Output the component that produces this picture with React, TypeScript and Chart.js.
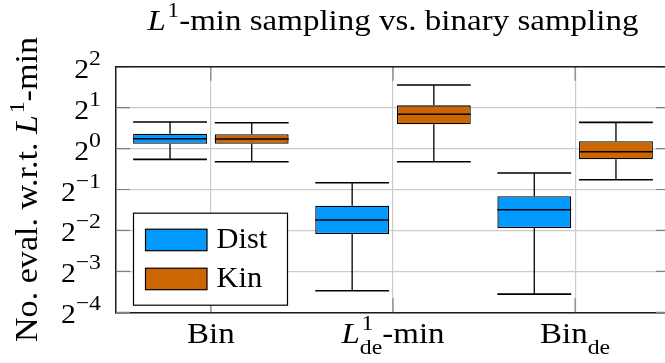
import React, { useEffect, useRef } from "react";
import { Chart, registerables } from "chart.js";
Chart.register(...registerables);

// ---------- data ----------
const categories = ["Bin", "L1de-min", "Binde"];
const seriesNames = ["Dist", "Kin"];
const seriesColors = ["#0099ff", "#cc6600"];

const distMin = [0.833, 0.090, 0.085];
const distQ1 = [1.086, 0.235, 0.260];
const distMedian = [1.182, 0.298, 0.355];
const distQ3 = [1.286, 0.380, 0.446];
const distMax = [1.568, 0.561, 0.661];

const kinMin = [0.800, 0.800, 0.590];
const kinQ1 = [1.086, 1.508, 0.833];
const kinMedian = [1.176, 1.786, 0.948];
const kinQ3 = [1.273, 2.079, 1.131];
const kinMax = [1.550, 2.934, 1.559];

const yTickExponents = [-4, -3, -2, -1, 0, 1, 2];

type Seg = { t: string; it?: boolean; sup?: boolean; sub?: boolean; stack?: boolean };

const categoryLabels: Seg[][] = [
  [{ t: "Bin" }],
  [{ t: "L", it: true }, { t: "1", sup: true, stack: true }, { t: "de", sub: true }, { t: "-min" }],
  [{ t: "Bin" }, { t: "de", sub: true }],
];
const titleSegs: Seg[] = [{ t: "L", it: true }, { t: "1", sup: true }, { t: "-min sampling vs. binary sampling" }];
const yTitleSegs: Seg[] = [{ t: "No. eval. w.r.t. " }, { t: "L", it: true }, { t: "1", sup: true }, { t: "-min" }];

const FONT = '"Liberation Serif", "Times New Roman", serif';

type RichOpts = { scale: number; supShift: number; subShift: number; stretch: number };
const defaultRich: RichOpts = { scale: 0.7, supShift: 0.42, subShift: 0.32, stretch: 1.1 };

function segFont(s: Seg, size: number, o: RichOpts) {
  const fs = s.sup || s.sub ? size * o.scale : size;
  return `${s.it ? "italic " : ""}${fs}px ${FONT}`;
}

function drawRich(
  ctx: CanvasRenderingContext2D,
  segs: Seg[],
  x: number,
  y: number,
  align: "left" | "center" | "right",
  size: number,
  o: RichOpts = defaultRich
) {
  const items: { s: Seg; x: number }[] = [];
  let cx = 0;
  let stackW = 0;
  for (const s of segs) {
    ctx.font = segFont(s, size, o);
    const w = ctx.measureText(s.t).width;
    let ox = cx;
    if (s.sup && items.length && items[items.length - 1].s.it) ox += size * 0.05;
    items.push({ s, x: ox });
    if (s.stack) {
      stackW = w + (ox - cx);
    } else {
      cx += Math.max(w + (ox - cx), stackW);
      stackW = 0;
    }
  }
  const total = cx * o.stretch;
  const x0 = align === "left" ? x : align === "center" ? x - total / 2 : x - total;
  ctx.save();
  ctx.translate(x0, y);
  ctx.scale(o.stretch, 1);
  ctx.textAlign = "left";
  ctx.textBaseline = "alphabetic";
  for (const it of items) {
    ctx.font = segFont(it.s, size, o);
    const dy = it.s.sup ? -o.supShift * size : it.s.sub ? o.subShift * size : 0;
    ctx.fillText(it.s.t, it.x, dy);
  }
  ctx.restore();
}

const boxStats = [
  { min: distMin, q1: distQ1, med: distMedian, q3: distQ3, max: distMax },
  { min: kinMin, q1: kinQ1, med: kinMedian, q3: kinQ3, max: kinMax },
];

const boxPlugin = {
  id: "boxDecor",
  beforeDatasetsDraw(chart: any) {
    const ctx = chart.ctx as CanvasRenderingContext2D;
    const ca = chart.chartArea;
    const xs = chart.scales.x;
    const ys = chart.scales.y;
    ctx.save();
    // inner tick marks
    ctx.strokeStyle = "#808080";
    ctx.lineWidth = 1.2;
    const tl = 14;
    const rightAxis = xs.getPixelForValue(xs.max);
    for (const k of yTickExponents) {
      const py = ys.getPixelForValue(Math.pow(2, k));
      ctx.beginPath();
      ctx.moveTo(ca.left, py);
      ctx.lineTo(ca.left + tl, py);
      ctx.moveTo(rightAxis - tl, py);
      ctx.lineTo(rightAxis, py);
      ctx.stroke();
    }
    categories.forEach((_, i) => {
      const px = xs.getPixelForValue(i + 1);
      ctx.beginPath();
      ctx.moveTo(px, ca.top);
      ctx.lineTo(px, ca.top + tl);
      ctx.moveTo(px, ca.bottom);
      ctx.lineTo(px, ca.bottom - tl);
      ctx.stroke();
    });
    // whiskers
    ctx.strokeStyle = "#000";
    boxStats.forEach((st, di) => {
      const meta = chart.getDatasetMeta(di);
      meta.data.forEach((el: any, i: number) => {
        const cx = el.x;
        const w = el.width;
        const yMin = ys.getPixelForValue(st.min[i]);
        const yMax = ys.getPixelForValue(st.max[i]);
        const yQ1 = ys.getPixelForValue(st.q1[i]);
        const yQ3 = ys.getPixelForValue(st.q3[i]);
        ctx.lineWidth = 1.3;
        ctx.beginPath();
        ctx.moveTo(cx, yQ3);
        ctx.lineTo(cx, yMax);
        ctx.moveTo(cx, yQ1);
        ctx.lineTo(cx, yMin);
        ctx.stroke();
        ctx.lineWidth = 1.6;
        ctx.beginPath();
        ctx.moveTo(cx - w / 2, yMax);
        ctx.lineTo(cx + w / 2, yMax);
        ctx.moveTo(cx - w / 2, yMin);
        ctx.lineTo(cx + w / 2, yMin);
        ctx.stroke();
      });
    });
    ctx.restore();
  },
  afterDatasetsDraw(chart: any) {
    const ctx = chart.ctx as CanvasRenderingContext2D;
    const ca = chart.chartArea;
    const xs = chart.scales.x;
    const ys = chart.scales.y;
    ctx.save();
    // medians
    ctx.strokeStyle = "#000";
    ctx.lineWidth = 1.5;
    boxStats.forEach((st, di) => {
      const meta = chart.getDatasetMeta(di);
      meta.data.forEach((el: any, i: number) => {
        const y = ys.getPixelForValue(st.med[i]);
        ctx.beginPath();
        ctx.moveTo(el.x - el.width / 2, y);
        ctx.lineTo(el.x + el.width / 2, y);
        ctx.stroke();
      });
    });
    // top frame
    ctx.strokeStyle = "#1a1a1a";
    ctx.lineWidth = 1.5;
    ctx.beginPath();
    ctx.moveTo(ca.left, ca.top);
    ctx.lineTo(ca.right, ca.top);
    ctx.stroke();

    // legend
    const lx = ca.left + 17.5;
    const lyTop = ca.top + 146.5;
    const lw = 154;
    const lh = 92;
    ctx.fillStyle = "#fff";
    ctx.fillRect(lx, lyTop, lw, lh);
    ctx.strokeStyle = "#000";
    ctx.lineWidth = 1.2;
    ctx.strokeRect(lx, lyTop, lw, lh);
    seriesNames.forEach((name, i) => {
      const sy = lyTop + 16 + i * 39;
      ctx.fillStyle = seriesColors[i];
      ctx.fillRect(lx + 12, sy, 61.5, 21.5);
      ctx.strokeStyle = "#000";
      ctx.lineWidth = 1.2;
      ctx.strokeRect(lx + 12, sy, 61.5, 21.5);
      ctx.fillStyle = "#000";
      drawRich(ctx, [{ t: name }], lx + 83, sy + 18.5, "left", 29, { ...defaultRich, stretch: 1.05 });
    });

    // y tick labels
    ctx.fillStyle = "#000";
    for (const k of yTickExponents) {
      const py = ys.getPixelForValue(Math.pow(2, k));
      const ex = k < 0 ? "\u2212" + String(-k) : String(k);
      drawRich(ctx, [{ t: "2" }, { t: ex, sup: true }], ca.left - 15, py + 11, "right", 27, {
        scale: 0.8,
        supShift: 0.48,
        subShift: 0.3,
        stretch: 1.1,
      });
    }
    // x labels
    categoryLabels.forEach((segs, i) => {
      const px = xs.getPixelForValue(i + 1);
      drawRich(ctx, segs, px, 343, "center", 30, { scale: 0.72, supShift: 0.45, subShift: 0.36, stretch: 1.1 });
    });
    // title
    drawRich(ctx, titleSegs, xs.getPixelForValue(2), 30, "center", 30);
    // y title
    ctx.save();
    ctx.translate(37, (ca.top + ca.bottom) / 2);
    ctx.rotate(-Math.PI / 2);
    drawRich(ctx, yTitleSegs, 0, 0, "center", 31);
    ctx.restore();
    ctx.restore();
  },
};

export default function App() {
  const ref = useRef<HTMLCanvasElement | null>(null);
  useEffect(() => {
    document.body.style.margin = "0";
    const canvas = ref.current!;
    const datasets = boxStats.map((st, di) => ({
      label: seriesNames[di],
      data: categories.map((_, i) => ({ x: i + 1, y: [st.q1[i], st.q3[i]] })),
      backgroundColor: seriesColors[di],
      borderColor: "#000",
      borderWidth: 1.3,
      borderSkipped: false,
      categoryPercentage: 0.897,
      barPercentage: 0.904,
    }));
    const chart = new Chart(canvas, {
      type: "bar",
      data: { datasets: datasets as any },
      options: {
        animation: false,
        responsive: false,
        layout: { padding: { left: 116, top: 66.7, right: 0, bottom: 50.7 } },
        plugins: { legend: { display: false }, tooltip: { enabled: false }, title: { display: false } },
        scales: {
          x: {
            type: "linear",
            offset: false,
            min: 0.479,
            max: 3.521,
            ticks: { display: false },
            grid: { color: "#cccccc", lineWidth: 1.2, drawTicks: false, offset: false },
            border: { display: true, color: "#1a1a1a", width: 1.5 },
            afterBuildTicks: (s: any) => {
              s.ticks = categories.map((_, i) => ({ value: i + 1 }));
            },
            afterFit: (s: any) => {
              s.height = 0;
            },
          },
          y: {
            type: "logarithmic",
            min: Math.pow(2, yTickExponents[0]),
            max: Math.pow(2, yTickExponents[yTickExponents.length - 1]),
            ticks: { display: false },
            grid: { color: "#cccccc", lineWidth: 1.2, drawTicks: false },
            border: { display: true, color: "#1a1a1a", width: 1.5 },
            afterBuildTicks: (s: any) => {
              s.ticks = yTickExponents.map((k) => ({ value: Math.pow(2, k) }));
            },
            afterFit: (s: any) => {
              s.width = 0;
            },
          },
        },
      } as any,
      plugins: [boxPlugin],
    });
    return () => chart.destroy();
  }, []);
  return (
    <div style={{ width: 665, height: 363, overflow: "hidden" }}>
      <canvas ref={ref} width={670} height={363} style={{ display: "block" }} />
    </div>
  );
}
